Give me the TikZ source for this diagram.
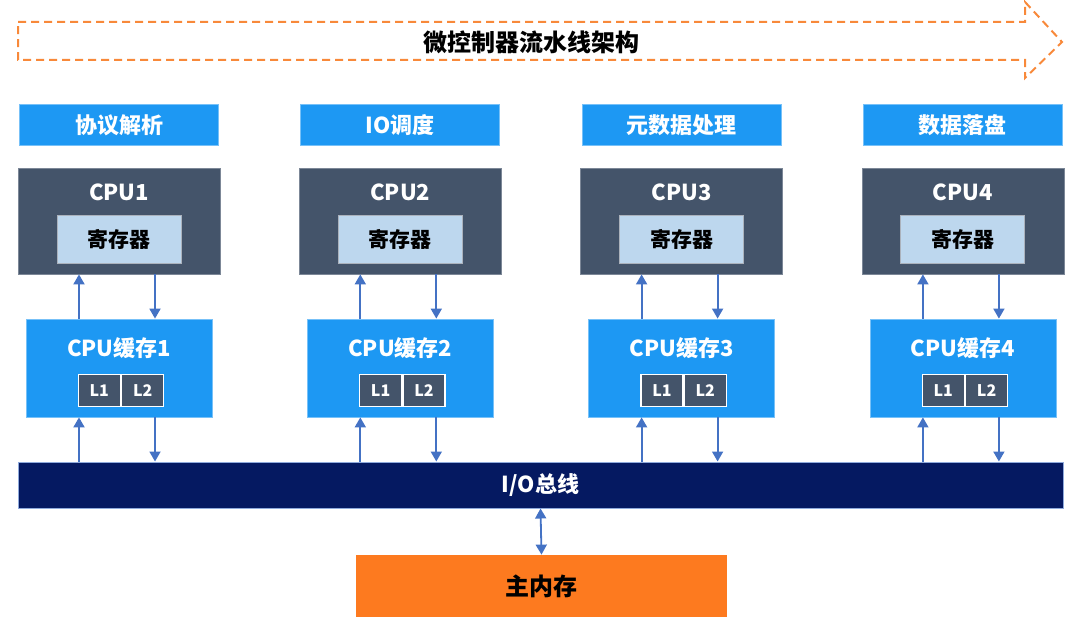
\documentclass[tikz,border=0pt]{standalone}
\usepackage{fontspec}
\setmainfont{Noto Sans CJK SC}
\usetikzlibrary{arrows.meta}
\definecolor{skyblue}{HTML}{1D98F3}
\definecolor{slate}{HTML}{44546A}
\definecolor{paleblue}{HTML}{BDD7EE}
\definecolor{navy}{HTML}{051961}
\definecolor{linkblue}{HTML}{4472C4}
\definecolor{tangerine}{HTML}{FD7A1F}
\definecolor{dashorange}{HTML}{F8893A}
\newcommand{\bigtxt}{\bfseries\fontsize{11}{13}\selectfont}

\tikzset{
  taskbox/.style={fill=skyblue,draw=skyblue!60!white,line width=0.4pt,minimum width=99.5pt,minimum height=20.5pt,inner sep=0pt,text=white,font=\bigtxt},
  cpubox/.style={fill=slate,draw=slate!70!white,line width=0.4pt,minimum width=101pt,minimum height=53pt,inner sep=0pt},
  regbox/.style={fill=paleblue,draw=slate!45!white,line width=0.5pt,minimum width=62pt,minimum height=23.5pt,inner sep=0pt,font=\bfseries\fontsize{10.5}{12}\selectfont},
  cachebox/.style={fill=skyblue,draw=skyblue!60!white,line width=0.4pt,minimum width=93pt,minimum height=49pt,inner sep=0pt},
  levelbox/.style={fill=slate,draw=white,line width=0.7pt,minimum width=21pt,minimum height=16pt,inner sep=0pt,text=white,font=\bfseries\fontsize{8}{10}\selectfont},
  whitetxt/.style={text=white,inner sep=0pt,font=\bigtxt},
  tip/.style={Triangle[width=5.5pt,length=5pt]},
  link/.style={draw=linkblue,line width=0.9pt,-{Triangle[width=5.5pt,length=5pt]}},
}

\begin{document}
\begin{tikzpicture}[x=0.5pt,y=-0.5pt]
\useasboundingbox (0,0) rectangle (1080,620);

% pipeline arrow
\draw[dashorange,line width=1pt,dash pattern=on 4pt off 2.5pt]
  (18,22) -- (1025,22) -- (1025,2) -- (1062,42) -- (1025,78) -- (1025,60) -- (18,60) -- cycle;
\node[font=\bfseries\fontsize{12}{14}\selectfont,inner sep=0pt] (pipetitle) at (531,42) {微控制器流水线架构};

% bus and memory
\node[fill=navy,draw=linkblue!60!white,line width=0.5pt,minimum width=522.5pt,minimum height=23pt,inner sep=0pt,text=white,font=\bigtxt] (bus) at (540.5,485) {I/O总线};
\node[fill=tangerine,minimum width=185.5pt,minimum height=31pt,inner sep=0pt,font=\bfseries\fontsize{12}{14}\selectfont] (mem) at (541.5,586) {主内存};
\draw[draw=linkblue,line width=0.9pt,{Triangle[width=5.5pt,length=5pt]}-{Triangle[width=5.5pt,length=5pt]}] (bus.south) -- (mem.north);

% columns
\foreach \i/\task in {1/协议解析,2/IO调度,3/元数据处理,4/数据落盘}{
  \pgfmathsetmacro\cx{119+281.3*(\i-1)}
  \node[taskbox] (task\i) at (\cx,125) {\task};
  \node[cpubox] (cpu\i) at (\cx,221) {};
  \node[whitetxt] (cpuname\i) at (\cx,192) {CPU\i};
  \node[regbox] (reg\i) at (\cx,239.5) {寄存器};
  \node[cachebox] (cache\i) at (\cx,368) {};
  \node[whitetxt] (cachename\i) at (\cx,348) {CPU缓存\i};
  \node[levelbox,anchor=east] (lone\i) at (\cx+2,390.5) {L1};
  \node[levelbox,anchor=west] (ltwo\i) at (lone\i.east) {L2};
  \draw[link] ([xshift=-20pt]cache\i.north) -- ([xshift=-20pt]cache\i.north |- cpu\i.south);
  \draw[link] ([xshift=18pt]cpu\i.south) -- ([xshift=18pt]cpu\i.south |- cache\i.north);
  \draw[link] ([xshift=-20pt]cache\i.south |- bus.north) -- ([xshift=-20pt]cache\i.south);
  \draw[link] ([xshift=18pt]cache\i.south) -- ([xshift=18pt]cache\i.south |- bus.north);
}
\end{tikzpicture}
\end{document}
